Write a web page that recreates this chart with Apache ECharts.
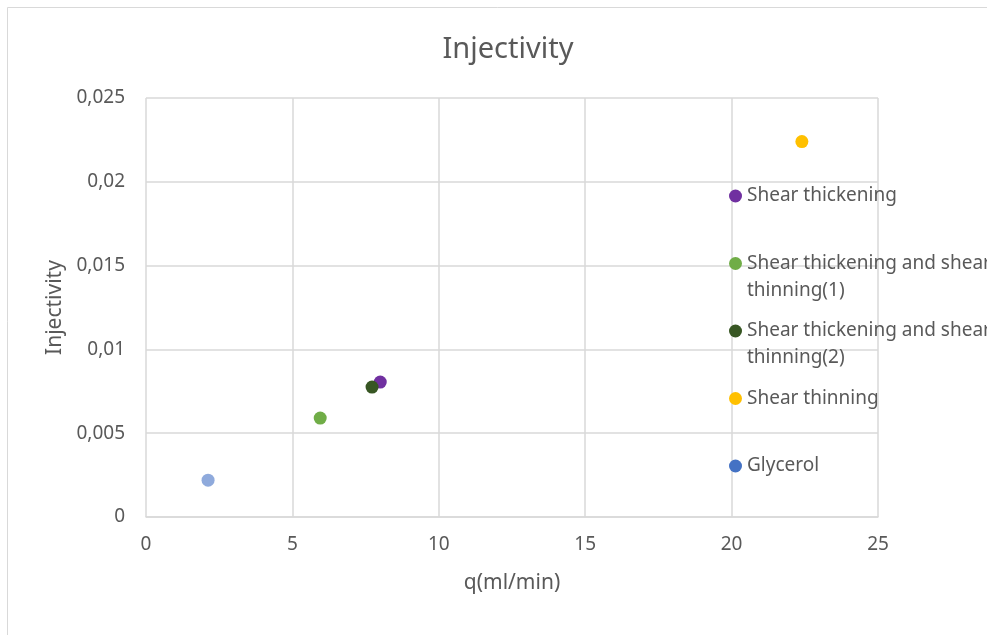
<!DOCTYPE html>
<html>
<head>
<meta charset="utf-8">
<script src="https://cdn.jsdelivr.net/npm/echarts@6/dist/echarts.min.js"></script>
<style>
  html, body { margin: 0; padding: 0; background: #fff; }
  #chart { width: 987px; height: 635px; }
</style>
</head>
<body>
<div id="chart"></div>
<script>
// Injectivity vs flow rate for each fluid
const seriesNames = [
  'Shear thickening',
  'Shear thickening and shear thinning(1)',
  'Shear thickening and shear thinning(2)',
  'Shear thinning',
  'Glycerol'
];
// Legend text split into display lines
const legendLines = {
  'Shear thickening': ['Shear thickening'],
  'Shear thickening and shear thinning(1)': ['Shear thickening and shear', 'thinning(1)'],
  'Shear thickening and shear thinning(2)': ['Shear thickening and shear', 'thinning(2)'],
  'Shear thinning': ['Shear thinning'],
  'Glycerol': ['Glycerol']
};
const flowRates = [8.0, 5.95, 7.72, 22.4, 2.12];          // q (ml/min)
const injectivity = [0.00805, 0.0059, 0.00775, 0.0224, 0.0022];
const seriesColors = ['#7030A0', '#70AD47', '#375623', '#FFC000', '#4472C4'];
const seriesOpacity = [1, 1, 1, 1, 0.6];

const xTicks = { min: 0, max: 25, interval: 5 };
const yTicks = { min: 0, max: 0.025, interval: 0.005 };

const FONT = 'Noto Sans';
const TEXT = '#595959';
const GRID = '#d9d9d9';
const LINE_H = 27;

// Legend layout: one entry per row, rows evenly spaced, marker on the first text line
const LEGEND_LEFT = 729;
const LEGEND_FIRST_ROW = 196;
const LEGEND_ROW_STEP = 67.5;

const chart = echarts.init(document.getElementById('chart'));

function legendFor(name, i) {
  const lines = legendLines[name];
  // a blank line above a two-line label keeps the marker centred on its first line
  const text = lines.length === 1 ? lines[0] : '\n' + lines.join('\n');
  const nLines = lines.length === 1 ? 1 : 3;
  const rowCenter = LEGEND_FIRST_ROW + i * LEGEND_ROW_STEP;
  return {
    orient: 'vertical',
    left: LEGEND_LEFT,
    top: rowCenter - nLines * LINE_H / 2,
    padding: 0,
    icon: 'circle',
    itemWidth: 13,
    itemHeight: 13,
    data: [{ name: name, itemStyle: { color: seriesColors[i], opacity: 1 } }],
    formatter: () => text,
    textStyle: { fontFamily: FONT, fontSize: 19, color: TEXT, lineHeight: LINE_H }
  };
}

chart.setOption({
  animation: false,
  backgroundColor: '#fff',
  title: {
    text: 'Injectivity',
    left: 503,
    textAlign: 'center',
    top: 30,
    textStyle: { fontFamily: FONT, fontSize: 29, fontWeight: 'normal', color: TEXT }
  },
  graphic: [{
    type: 'rect',
    shape: { x: 7.5, y: 7.5, width: 1000, height: 700 },
    style: { fill: 'none', stroke: '#d9d9d9', lineWidth: 1 },
    silent: true,
    z: -10
  }],
  legend: seriesNames.map(legendFor),
  grid: { left: 146, right: 109, top: 98, bottom: 118 },
  xAxis: {
    type: 'value',
    min: xTicks.min, max: xTicks.max, interval: xTicks.interval,
    name: 'q(ml/min)',
    nameLocation: 'middle',
    nameGap: 56,
    nameTextStyle: { fontFamily: FONT, fontSize: 21, color: TEXT },
    axisLine: { show: true, lineStyle: { color: GRID, width: 1.5 } },
    axisTick: { show: false },
    axisLabel: { fontFamily: FONT, fontSize: 19, color: TEXT, margin: 18 },
    splitLine: { show: true, lineStyle: { color: GRID, width: 1.5 } }
  },
  yAxis: {
    type: 'value',
    min: yTicks.min, max: yTicks.max, interval: yTicks.interval,
    name: 'Injectivity',
    nameLocation: 'middle',
    nameGap: 78,
    nameTextStyle: { fontFamily: FONT, fontSize: 21, color: TEXT },
    axisLine: { show: false },
    axisTick: { show: false },
    axisLabel: {
      fontFamily: FONT, fontSize: 19, color: TEXT, margin: 21,
      formatter: v => String(+v.toFixed(3)).replace('.', ',')
    },
    splitLine: { show: true, lineStyle: { color: GRID, width: 1.5 } }
  },
  series: seriesNames.map((n, i) => ({
    name: n,
    type: 'scatter',
    symbol: 'circle',
    symbolSize: 13,
    itemStyle: { color: seriesColors[i], opacity: seriesOpacity[i] },
    data: [[flowRates[i], injectivity[i]]]
  }))
});
</script>
</body>
</html>
